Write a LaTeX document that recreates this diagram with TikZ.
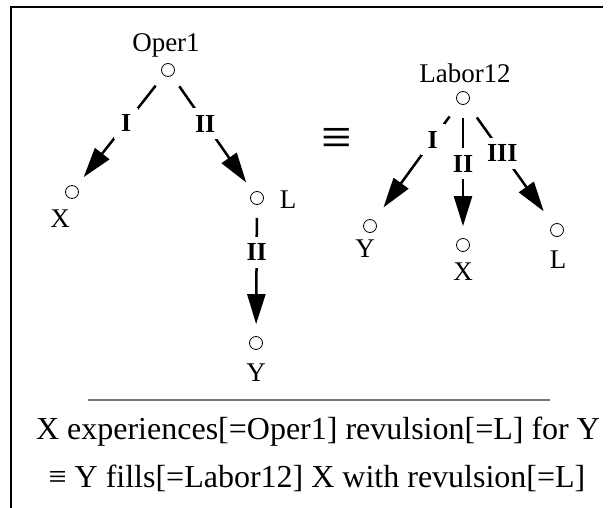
\documentclass[tikz,border=0pt]{standalone}
\usepackage{fontspec}
\setmainfont{Liberation Serif}
\usetikzlibrary{arrows.meta,positioning}
\begin{document}
\begin{tikzpicture}[x=1pt,y=-1pt,
    dot/.style={circle,draw,line width=0.8pt,minimum size=13pt,inner sep=0pt},
    lab/.style={inner sep=0pt,font=\fontsize{27}{30}\selectfont},
    rel/.style={fill=white,inner sep=7pt,font=\fontsize{26}{28}\selectfont\bfseries},
    arr/.style={line width=2.5pt,-{Triangle[length=30pt,width=18pt]},shorten <=13pt,shorten >=12pt},
    txt/.style={font=\fontsize{32}{36}\selectfont}]
    \useasboundingbox (0,0) rectangle (613,508);

    % frame
    \draw[line width=2pt] (11,508) -- (11,7) -- (603,7);

    % tree Oper1
    \node[dot] (oper) at (168,70) {};
    \node[lab] (operL) at (166,45) {Oper1};
    \node[dot] (xA) at (72,192) {};
    \node[lab] (xAL) at (60,219) {X};
    \node[dot] (lA) at (257,198) {};
    \node[lab] (lAL) at (288,200) {L};
    \node[dot] (yA) at (256,343) {};
    \node[lab] (yAL) at (256,373) {Y};

    \draw[arr] (oper) -- node[rel,pos=.43]{I} (xA);
    \draw[arr] (oper) -- node[rel,pos=.41]{II} (lA);
    \draw[arr] (lA) -- node[rel,pos=.36]{II} (yA);

    % equivalence
    \node[font=\fontsize{54}{54}\selectfont] (equiv) at (337,142) {≡};

    % tree Labor12
    \node[dot] (labor) at (463,98) {};
    \node[lab] (laborL) at (465,73) {Labor12};
    \node[dot] (yB) at (370,226) {};
    \node[lab] (yBL) at (365,249) {Y};
    \node[dot] (xB) at (463,245) {};
    \node[lab] (xBL) at (463,272) {X};
    \node[dot] (lB) at (557,230) {};
    \node[lab] (lBL) at (558,260) {L};

    \draw[arr,shorten <=16pt,shorten >=16pt] (labor) -- node[rel,pos=.31]{I} (yB);
    \draw[arr] (labor) -- node[rel,pos=.44]{II} (xB);
    \draw[arr,shorten <=17pt,shorten >=16pt] (labor) -- node[rel,pos=.41]{III} (lB);

    % paraphrases
    \draw[black!55,line width=1.5pt] (88,400) -- (550,400);
    \node[txt] (para1) at (318,432) {X experiences[=Oper1] revulsion[=L] for Y};
    \node[txt] (para2) at (317,478) {≡ Y fills[=Labor12] X with revulsion[=L]};
\end{tikzpicture}
\end{document}
